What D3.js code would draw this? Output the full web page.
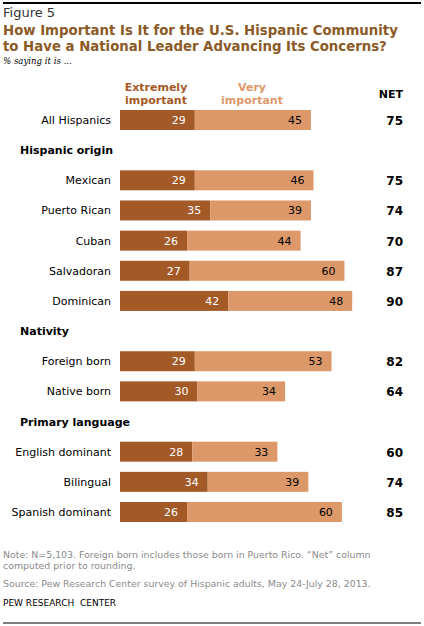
<!DOCTYPE html>
<html>
<head>
<meta charset="utf-8">
<script src="https://cdn.jsdelivr.net/npm/d3@7"></script>
<style>
  body { margin: 0; background: #fff; }
  svg { display: block; }
</style>
</head>
<body>
<div id="chart"></div>
<script>
// rows in display order; headers have no values
let rowKeys = ["All Hispanics", "Hispanic origin", "Mexican", "Puerto Rican", "Cuban", "Salvadoran", "Dominican",
    "Nativity", "Foreign born", "Native born", "Primary language", "English dominant", "Bilingual", "Spanish dominant"]
let headers = ["Hispanic origin", "Nativity", "Primary language"]
let categories = ["All Hispanics", "Mexican", "Puerto Rican", "Cuban", "Salvadoran", "Dominican",
    "Foreign born", "Native born", "English dominant", "Bilingual", "Spanish dominant"]
let extremely = [29, 29, 35, 26, 27, 42, 29, 30, 28, 34, 26]
let very = [45, 46, 39, 44, 60, 48, 53, 34, 33, 39, 60]
let net = [75, 75, 74, 70, 87, 90, 82, 64, 60, 74, 85]

let darkColor = "#a45a27"
let lightColor = "#dc9869"
let font = "'DejaVu Sans', Verdana, sans-serif"

let svg = d3.select("#chart")
    .append("svg")
    .attr("width", 424)
    .attr("height", 626)

let y = d3.scalePoint().domain(rowKeys).range([120, 512])
let x = d3.scaleLinear().domain([0, 100]).range([120, 378])
let barH = 20

// top and bottom rules
svg.append("line").attr("x1", 3).attr("x2", 421).attr("y1", 3).attr("y2", 3)
    .attr("stroke", "#000").attr("stroke-width", 2)
svg.append("line").attr("x1", 3).attr("x2", 421).attr("y1", 623).attr("y2", 623)
    .attr("stroke", "#000").attr("stroke-width", 1)

// titles
svg.append("text").attr("x", 3).attr("y", 17).text("Figure 5")
    .attr("font-family", font).attr("font-size", 13).attr("fill", "#333")
let title = svg.append("text").attr("font-family", font).attr("font-size", 13.3)
    .attr("font-weight", "bold").attr("fill", "#8b5a26")
title.append("tspan").attr("x", 3).attr("y", 35).text("How Important Is It for the U.S. Hispanic Community")
title.append("tspan").attr("x", 3).attr("y", 51).text("to Have a National Leader Advancing Its Concerns?")
svg.append("text").attr("x", 3).attr("y", 64).text("% saying it is ...")
    .attr("font-family", "'DejaVu Serif', Georgia, serif").attr("font-style", "italic")
    .attr("font-size", 8.6).attr("fill", "#000")

// legend headings
let leg = [
    { lines: ["Extremely", "important"], cx: 156, color: darkColor },
    { lines: ["Very", "important"], cx: 252, color: lightColor }
]
leg.forEach(function (d) {
    let t = svg.append("text").attr("text-anchor", "middle").attr("font-family", font)
        .attr("font-size", 11).attr("font-weight", "bold").attr("fill", d.color)
    d.lines.forEach(function (l, i) {
        t.append("tspan").attr("x", d.cx).attr("y", 91 + i * 13).text(l)
    })
})
svg.append("text").attr("x", 403).attr("y", 98).attr("text-anchor", "end").text("NET")
    .attr("font-family", font).attr("font-size", 11).attr("font-weight", "bold").attr("fill", "#000")

// section headers
svg.selectAll(".hdr").data(headers).enter().append("text")
    .attr("class", "hdr")
    .attr("x", 20)
    .attr("y", d => y(d) + 4)
    .text(d => d)
    .attr("font-family", font).attr("font-size", 11).attr("font-weight", "bold").attr("fill", "#000")

let rows = categories.map(function (c, i) {
    return { name: c, ext: extremely[i], very: very[i], net: net[i] }
})

let g = svg.selectAll(".row").data(rows).enter().append("g").attr("class", "row")

g.append("text")
    .attr("x", 111)
    .attr("y", d => y(d.name) + 4)
    .attr("text-anchor", "end")
    .text(d => d.name)
    .attr("font-family", font).attr("font-size", 11).attr("fill", "#000")

g.append("rect")
    .attr("x", x(0))
    .attr("y", d => y(d.name) - barH / 2)
    .attr("width", d => x(d.ext) - x(0))
    .attr("height", barH)
    .attr("fill", darkColor)

g.append("rect")
    .attr("x", d => x(d.ext))
    .attr("y", d => y(d.name) - barH / 2)
    .attr("width", d => x(d.ext + d.very) - x(d.ext))
    .attr("height", barH)
    .attr("fill", lightColor)

g.append("text")
    .attr("x", d => x(d.ext) - 9)
    .attr("y", d => y(d.name) + 4)
    .attr("text-anchor", "end")
    .text(d => d.ext)
    .attr("font-family", font).attr("font-size", 11).attr("fill", "#fff")

g.append("text")
    .attr("x", d => x(d.ext + d.very) - 9)
    .attr("y", d => y(d.name) + 4)
    .attr("text-anchor", "end")
    .text(d => d.very)
    .attr("font-family", font).attr("font-size", 11).attr("fill", "#000")

g.append("text")
    .attr("x", 403)
    .attr("y", d => y(d.name) + 5)
    .attr("text-anchor", "end")
    .text(d => d.net)
    .attr("font-family", font).attr("font-size", 12).attr("font-weight", "bold").attr("fill", "#000")

// footer
let notes = [
    { t: "Note: N=5,103. Foreign born includes those born in Puerto Rico. \u201CNet\u201D column", y: 558, c: "#8a8a8a" },
    { t: "computed prior to rounding.", y: 569, c: "#8a8a8a" },
    { t: "Source: Pew Research Center survey of Hispanic adults, May 24-July 28, 2013.", y: 587, c: "#8a8a8a" },
    { t: "PEW RESEARCH  CENTER", y: 606, c: "#000" }
]
svg.selectAll(".note").data(notes).enter().append("text")
    .attr("class", "note")
    .attr("x", 3)
    .attr("y", d => d.y)
    .text(d => d.t)
    .attr("font-family", font).attr("font-size", d => d.c === "#000" ? 9 : 9.4).attr("fill", d => d.c)
    .attr("xml:space", "preserve").style("white-space", "pre")
</script>
</body>
</html>
